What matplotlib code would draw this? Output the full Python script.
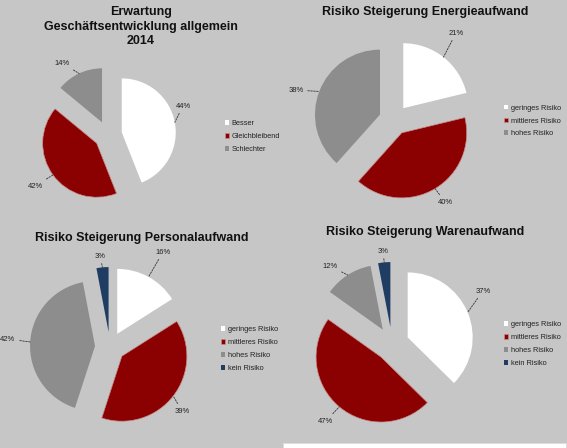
import matplotlib
matplotlib.use('Agg')
import matplotlib.pyplot as plt
import numpy as np
from matplotlib.patches import Rectangle

plt.rcParams['font.family'] = ['Liberation Sans', 'DejaVu Sans']

# ---------------- data ----------------
title1 = "Erwartung\nGeschäftsentwicklung allgemein\n2014"
title2 = "Risiko Steigerung Energieaufwand"
title3 = "Risiko Steigerung Personalaufwand"
title4 = "Risiko Steigerung Warenaufwand"

cats1 = ["Besser", "Gleichbleibend", "Schlechter"]
vals1 = [44, 42, 14]

cats2 = ["geringes Risiko", "mittleres Risiko", "hohes Risiko"]
vals2 = [21, 40, 38]

cats3 = ["geringes Risiko", "mittleres Risiko", "hohes Risiko", "kein Risiko"]
vals3 = [16, 39, 42, 3]

cats4 = ["geringes Risiko", "mittleres Risiko", "hohes Risiko", "kein Risiko"]
vals4 = [37, 47, 12, 3]

# ---------------- style / layout ----------------
W, H = 567, 448
BG = '#c6c6c6'
WHITE = '#ffffff'
RED = '#8b0000'
GRAY = '#8d8d8d'
BLUE = '#1f3d63'
colors4 = [WHITE, RED, GRAY, BLUE]

fig = plt.figure(figsize=(W / 100, H / 100), dpi=100, facecolor=BG)
ax = fig.add_axes([0, 0, 1, 1])
ax.set_xlim(0, W)
ax.set_ylim(0, H)
ax.set_facecolor(BG)
ax.axis('off')

# white strip at bottom right
ax.add_patch(Rectangle((283, -2), 283, 7, facecolor='white', edgecolor='#dddddd', lw=0.6))

# pie layout: center (image px), radius, explode, label positions (image px), legend (x, y-mid)
panels = [
    dict(vals=vals1, cats=cats1, title=title1, c=(108, 135), r=54, e=14,
         labpos=[(183, 106), (35, 186), (62, 63)], leg=(225, 136.5),
         tpos=(141, 6), ls=1.3),
    dict(vals=vals2, cats=cats2, title=title2, c=(394, 120), r=65, e=15,
         labpos=[(456, 33), (445, 202), (296, 90)], leg=(504, 121),
         tpos=(425, 6), ls=1.2),
    dict(vals=vals3, cats=cats3, title=title3, c=(110, 347), r=65, e=15,
         labpos=[(163, 252), (182, 411), (8, 339), (100, 256)], leg=(221, 349),
         tpos=(142, 232), ls=1.2),
    dict(vals=vals4, cats=cats4, title=title4, c=(392, 344), r=65, e=17,
         labpos=[(483, 291), (326, 421), (330, 266), (383, 251)], leg=(504, 344),
         tpos=(425, 226), ls=1.2),
]

for p in panels:
    n = len(p['vals'])
    cx, cy = p['c']
    wedges, _ = ax.pie(p['vals'], colors=colors4[:n], startangle=90, counterclock=False,
                       radius=p['r'], center=(cx, H - cy), explode=[p['e']] * n,
                       frame=True)
    for w in wedges:
        if w.get_facecolor()[:3] == matplotlib.colors.to_rgb(RED):
            w.set_edgecolor('#c98a8a')
            w.set_linewidth(0.5)
        else:
            w.set_linewidth(0)
    # labels with dashed leader lines
    for w, v, (lx, ly) in zip(wedges, p['vals'], p['labpos']):
        mid = np.deg2rad((w.theta1 + w.theta2) / 2)
        wx, wy = w.center
        px = wx + w.r * np.cos(mid)
        py = wy + w.r * np.sin(mid)
        ax.annotate(f"{v}%", xy=(px, py), xytext=(lx, H - ly), ha='center', va='center',
                    fontsize=5.5, color='#222222',
                    arrowprops=dict(arrowstyle='-', linestyle=(0, (2, 1.5)), lw=0.6,
                                    color='#333333', shrinkA=1, shrinkB=0))
    # title
    tx, ty = p['tpos']
    ax.text(tx, H - ty, p['title'], ha='center', va='top', fontsize=9, fontweight='bold',
            color='#111111', linespacing=p['ls'])
    # legend
    lx, ly = p['leg']
    fig.legend(wedges, p['cats'], loc='center left', bbox_to_anchor=(lx / W, 1 - ly / H),
               frameon=False, fontsize=5.3, handlelength=0.6, handleheight=0.6,
               handletextpad=0.3, labelspacing=0.8, borderpad=0, borderaxespad=0,
               labelcolor='#222222')

ax.set_xlim(0, W)
ax.set_ylim(0, H)
ax.set_aspect('auto')
ax.axis('off')

fig.savefig('out.png', dpi=100, facecolor=BG)
